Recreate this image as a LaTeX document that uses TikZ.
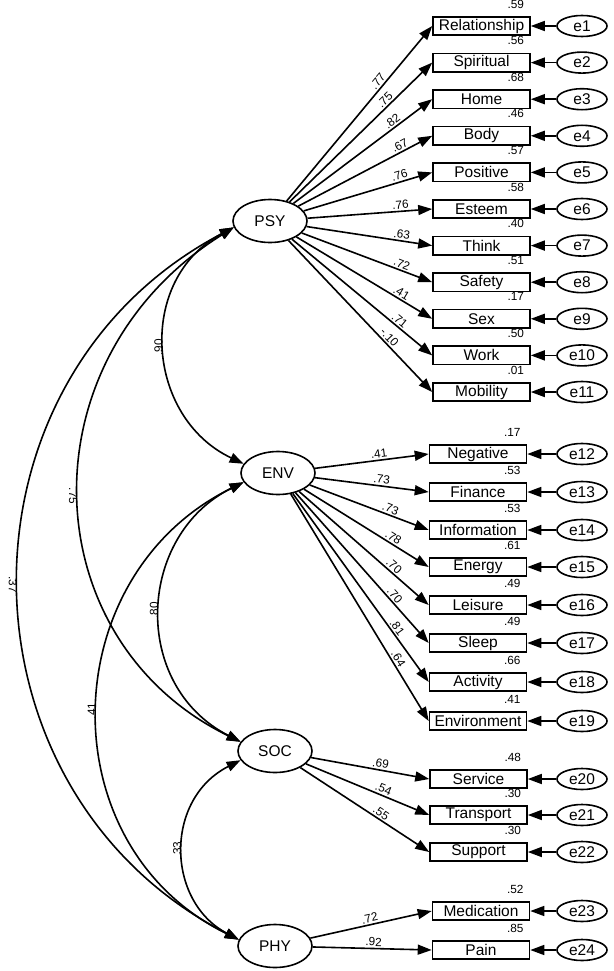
\documentclass[tikz,border=0pt]{standalone}
\usepackage{fontspec}
\setmainfont{Liberation Sans}
\usetikzlibrary{arrows.meta,shapes.geometric,calc}
\begin{document}
\begin{tikzpicture}[x=1pt,y=-1pt,
  bigfont/.style={font=\fontsize{15.5}{17}\selectfont},
  lat/.style={ellipse, draw, line width=1.6pt, minimum width=74pt, minimum height=43pt, inner sep=0pt, bigfont},
  obs/.style={rectangle, draw, line width=1.6pt, minimum width=97pt, minimum height=18.5pt, inner sep=0pt, bigfont},
  err/.style={ellipse, draw, line width=1.6pt, minimum width=50pt, minimum height=21pt, inner sep=0pt, bigfont},
  load/.style={line width=1.6pt, -{Triangle[length=14pt,width=10pt]}},
  cov/.style={line width=1.6pt, {Triangle[length=14pt,width=10pt]}-{Triangle[length=14pt,width=10pt]}},
  coef/.style={font=\fontsize{11.8}{13}\selectfont, inner sep=1.5pt},
]
\useasboundingbox (0,0) rectangle (613,971);
% latent variables
\node[lat] (PSY) at (270,221) {PSY};
\node[lat] (ENV) at (278,473) {ENV};
\node[lat] (SOC) at (275,751) {SOC};
\node[lat] (PHY) at (275,946) {PHY};
% PSY indicators
\node[obs] (o1) at (481.5,26) {Relationship};
\node[obs] (o2) at (481.5,62.6) {Spiritual};
\node[obs] (o3) at (481.5,99.2) {Home};
\node[obs] (o4) at (481.5,135.8) {Body};
\node[obs] (o5) at (481.5,172.4) {Positive};
\node[obs] (o6) at (481.5,209) {Esteem};
\node[obs] (o7) at (481.5,245.6) {Think};
\node[obs] (o8) at (481.5,282.2) {Safety};
\node[obs] (o9) at (481.5,318.8) {Sex};
\node[obs] (o10) at (481.5,355.4) {Work};
\node[obs] (o11) at (481.5,392) {Mobility};
% ENV indicators
\node[obs] (o12) at (478,454) {Negative};
\node[obs] (o13) at (478,492) {Finance};
\node[obs] (o14) at (478,530) {Information};
\node[obs] (o15) at (478,567) {Energy};
\node[obs] (o16) at (478,605) {Leisure};
\node[obs] (o17) at (478,643) {Sleep};
\node[obs] (o18) at (478,682) {Activity};
\node[obs] (o19) at (478,721) {Environment};
% SOC indicators
\node[obs] (o20) at (478.5,779) {Service};
\node[obs] (o21) at (478.5,815) {Transport};
\node[obs] (o22) at (478.5,852) {Support};
% PHY indicators
\node[obs] (o23) at (481,911) {Medication};
\node[obs] (o24) at (481,950) {Pain};
% error terms, arrows and R^2 labels
\foreach \i/\r in {1/.59,2/.56,3/.68,4/.46,5/.57,6/.58,7/.40,8/.51,9/.17,10/.50,11/.01,
                   12/.17,13/.53,14/.53,15/.61,16/.49,17/.49,18/.66,19/.41,
                   20/.48,21/.30,22/.30,23/.52,24/.85}{
  \path let \p1=(o\i) in node[err] (e\i) at (582,\y1) {e\i};
  \draw[load] (e\i) -- (o\i);
  \node[coef] (r\i) at ($(o\i.north east)+(-15,-12)$) {\r};
}
% PSY loadings
\draw[load] (PSY) -- node[coef,pos=0.66,sloped,above] (l1) {.77} (o1.west);
\draw[load] (PSY) -- node[coef,pos=0.70,sloped,above] (l2) {.75} (o2.west);
\draw[load] (PSY) -- node[coef,pos=0.74,sloped,above] (l3) {.82} (o3.west);
\draw[load] (PSY) -- node[coef,pos=0.78,sloped,above] (l4) {.67} (o4.west);
\draw[load] (PSY) -- node[coef,pos=0.76,sloped,above] (l5) {.76} (o5.west);
\draw[load] (PSY) -- node[coef,pos=0.75,sloped,above] (l6) {.76} (o6.west);
\draw[load] (PSY) -- node[coef,pos=0.75,sloped,above] (l7) {.63} (o7.west);
\draw[load] (PSY) -- node[coef,pos=0.75,sloped,above] (l8) {.72} (o8.west);
\draw[load] (PSY) -- node[coef,pos=0.75,sloped,above] (l9) {.41} (o9.west);
\draw[load] (PSY) -- node[coef,pos=0.74,sloped,above] (l10) {.71} (o10.west);
\draw[load] (PSY) -- node[coef,pos=0.67,sloped,above] (l11) {-.10} (o11.west);
% ENV loadings
\draw[load] (ENV) -- node[coef,pos=0.57,sloped,above] (l12) {.41} (o12.west);
\draw[load] (ENV) -- node[coef,pos=0.58,sloped,above] (l13) {.73} (o13.west);
\draw[load] (ENV) -- node[coef,pos=0.66,sloped,above] (l14) {.73} (o14.west);
\draw[load] (ENV) -- node[coef,pos=0.69,sloped,above] (l15) {.78} (o15.west);
\draw[load] (ENV) -- node[coef,pos=0.70,sloped,above] (l16) {.70} (o16.west);
\draw[load] (ENV) -- node[coef,pos=0.71,sloped,above] (l17) {.70} (o17.west);
\draw[load] (ENV) -- node[coef,pos=0.73,sloped,above] (l18) {.81} (o18.west);
\draw[load] (ENV) -- node[coef,pos=0.74,sloped,above] (l19) {.64} (o19.west);
% SOC loadings
\draw[load] (SOC) -- node[coef,pos=0.58,sloped,above] (l20) {.69} (o20.west);
\draw[load] (SOC) -- node[coef,pos=0.61,sloped,above] (l21) {.54} (o21.west);
\draw[load] (SOC) -- node[coef,pos=0.60,sloped,above] (l22) {.55} (o22.west);
% PHY loadings
\draw[load] (PHY) -- node[coef,pos=0.50,sloped,above] (l23) {.72} (o23.west);
\draw[load] (PHY) -- node[coef,pos=0.51,sloped,above] (l24) {.92} (o24.west);
% covariances
\draw[cov] (PSY.190) .. controls (136,279) and (145,417) .. node[coef,pos=0.5,rotate=90,anchor=south] (c1) {.90} (ENV.165);
\draw[cov] (PSY.190) .. controls (22,360) and (32,640) .. node[coef,pos=0.5,rotate=-90,anchor=north] (c2) {.75} (SOC.165);
\draw[cov] (PSY.190) .. controls (-55,379) and (-51,791) .. node[coef,pos=0.5,rotate=-90,anchor=north] (c3) {.37} (PHY.170);
\draw[cov] (ENV.195) .. controls (137,535) and (130,685) .. node[coef,pos=0.5,rotate=90,anchor=south] (c4) {.80} (SOC.165);
\draw[cov] (ENV.195) .. controls (53,576) and (48,846) .. node[coef,pos=0.5,rotate=90,anchor=south] (c5) {.41} (PHY.170);
\draw[cov] (SOC.195) .. controls (164,799) and (166,901) .. node[coef,pos=0.5,rotate=90,anchor=south] (c6) {.33} (PHY.170);
\end{tikzpicture}
\end{document}
